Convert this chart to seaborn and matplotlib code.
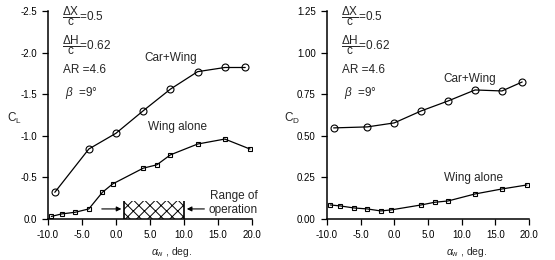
import matplotlib
matplotlib.use("Agg")
import matplotlib.pyplot as plt
import seaborn as sns

# 迎角 (deg)
car_aoa = [-9, -4, 0, 4, 8, 12, 16, 19]
wing_aoa = [-9.5, -8, -6, -4, -2, -0.5, 4, 6, 8, 12, 16, 19.7]

# 揚力係数 (負の値 = ダウンフォース)
car_cl = [-0.32, -0.84, -1.03, -1.30, -1.56, -1.77, -1.82, -1.82]
wing_cl = [-0.03, -0.06, -0.08, -0.12, -0.32, -0.42, -0.61, -0.65, -0.77, -0.90, -0.96, -0.84]

# 抗力係数
car_cd = [0.547, 0.553, 0.577, 0.649, 0.709, 0.775, 0.769, 0.823]
wing_cd = [0.084, 0.078, 0.066, 0.060, 0.048, 0.054, 0.084, 0.100, 0.108, 0.150, 0.180, 0.204]

# 運用範囲
op_range = [1.2, 10.0]
op_depth = -0.22

x_ticks = [-10, -5, 0, 5, 10, 15, 20]
x_labels = ["-10.0", "-5.0", "0.0", "5.0", "10.0", "15.0", "20.0"]
cl_ticks = [0.0, -0.5, -1.0, -1.5, -2.0, -2.5]
cl_labels = ["0.0", "-0.5", "-1.0", "-1.5", "-2.0", "-2.5"]
cd_ticks = [0.0, 0.25, 0.5, 0.75, 1.0, 1.25]
cd_labels = ["0.00", "0.25", "0.50", "0.75", "1.00", "1.25"]

sns.set_style("ticks")
plt.rcParams["font.family"] = ["Liberation Sans", "DejaVu Sans"]
plt.rcParams["mathtext.fontset"] = "custom"
plt.rcParams["mathtext.rm"] = "Liberation Sans"
plt.rcParams["mathtext.it"] = "Liberation Sans:italic"
plt.rcParams["hatch.linewidth"] = 0.7

fig = plt.figure(figsize=(5.55, 2.6), dpi=100)
ax1 = fig.add_axes([0.0865, 0.158, 0.3676, 0.8])
ax2 = fig.add_axes([0.589, 0.158, 0.364, 0.8])

line_kw = dict(color="black", linewidth=0.9, markerfacecolor="none",
               markeredgecolor="black", markeredgewidth=0.8)


def style_axes(ax, yticks, ylabels, ylim):
    ax.set_xlim(-10, 20)
    ax.set_ylim(*ylim)
    ax.set_xticks(x_ticks)
    ax.set_xticklabels(x_labels)
    ax.set_yticks(yticks)
    ax.set_yticklabels(ylabels)
    ax.tick_params(labelsize=7, length=4, width=0.9, colors="black", pad=4)
    for s in ["top", "right"]:
        ax.spines[s].set_visible(False)
    for s in ["left", "bottom"]:
        ax.spines[s].set_linewidth(1.1)
        ax.spines[s].set_color("black")
    ax.set_xlabel("")
    ax.set_ylabel("")


def params_text(ax):
    kw = dict(transform=ax.transAxes, fontsize=8.5, va="center", ha="left")
    ax.text(0.07, 0.975, r"$\dfrac{\Delta\mathrm{X}}{\mathrm{c}}$=0.5", **kw)
    ax.text(0.07, 0.835, r"$\dfrac{\Delta\mathrm{H}}{\mathrm{c}}$=0.62", **kw)
    ax.text(0.075, 0.715, "AR =4.6", **kw)
    ax.text(0.085, 0.605, r"$\beta$  =9°", **kw)


# 左: 揚力
sns.lineplot(x=car_aoa, y=car_cl, marker="o", markersize=5, ax=ax1, **line_kw)
sns.lineplot(x=wing_aoa, y=wing_cl, marker="s", markersize=3.5, ax=ax1, **line_kw)
ax1.fill_between(op_range, 0, op_depth, facecolor="white", edgecolor="black",
                 hatch="xxx", linewidth=0)
ax1.vlines(op_range, 0, op_depth, color="black", linewidth=1.2)
ax1.annotate("", xy=(op_range[0], -0.12), xytext=(-2.5, -0.12),
             arrowprops=dict(arrowstyle="-|>", color="black", lw=0.8, mutation_scale=7))
ax1.annotate("", xy=(op_range[1], -0.12), xytext=(13.4, -0.12),
             arrowprops=dict(arrowstyle="-|>", color="black", lw=0.8, mutation_scale=7))
ax1.text(20.8, -0.19, "Range of\noperation", ha="right", va="center",
         fontsize=8.5, linespacing=1.15)
ax1.text(8.0, -1.93, "Car+Wing", ha="center", va="center", fontsize=8.5)
ax1.text(9.0, -1.10, "Wing alone", ha="center", va="center", fontsize=8.5)
style_axes(ax1, cl_ticks, cl_labels, (0, -2.5))
params_text(ax1)

# 右: 抗力
sns.lineplot(x=car_aoa, y=car_cd, marker="o", markersize=5, ax=ax2, **line_kw)
sns.lineplot(x=wing_aoa, y=wing_cd, marker="s", markersize=3.5, ax=ax2, **line_kw)
ax2.text(11.2, 0.84, "Car+Wing", ha="center", va="center", fontsize=8.5)
ax2.text(11.8, 0.246, "Wing alone", ha="center", va="center", fontsize=8.5)
style_axes(ax2, cd_ticks, cd_labels, (0, 1.25))
params_text(ax2)

fig.text(0.012, 0.545, r"C$_{\rm L}$", fontsize=8.5, va="center")
fig.text(0.512, 0.545, r"C$_{\rm D}$", fontsize=8.5, va="center")
fig.text(0.31, 0.03, r"$\alpha_{\rm w}$ , deg.", fontsize=7.5, ha="center", va="center")
fig.text(0.841, 0.03, r"$\alpha_{\rm w}$ , deg.", fontsize=7.5, ha="center", va="center")

fig.savefig("out.png", dpi=100, facecolor="white")
